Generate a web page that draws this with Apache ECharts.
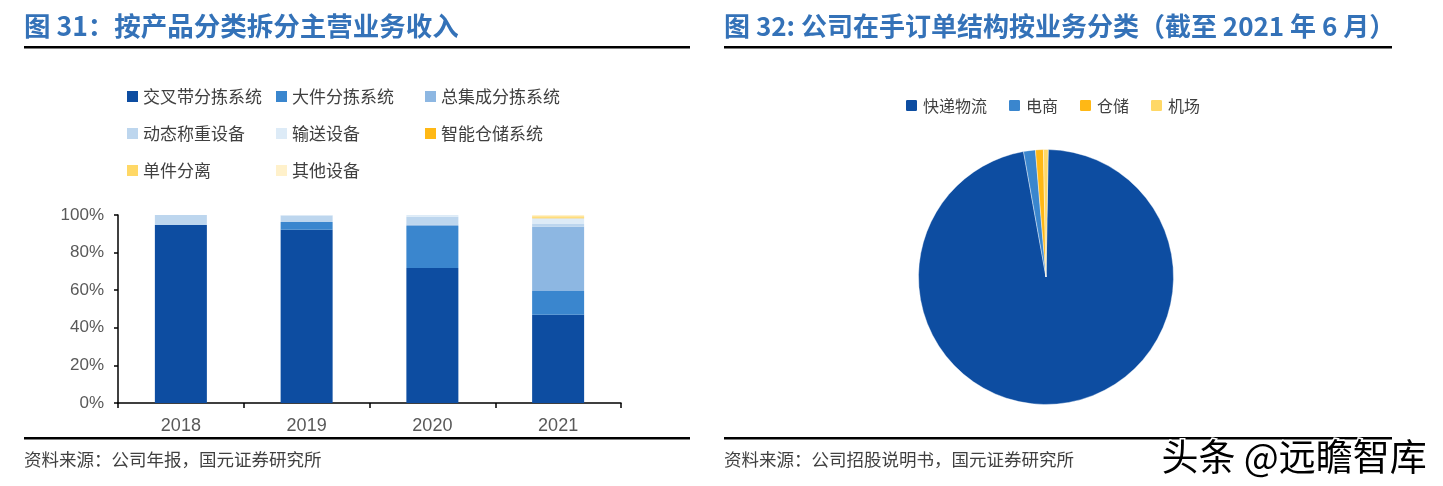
<!DOCTYPE html>
<html><head><meta charset="utf-8">
<script src="https://cdn.jsdelivr.net/npm/echarts@6/dist/echarts.min.js"></script>
<style>html,body{margin:0;padding:0;background:#fff}#c{width:1443px;height:486px}</style>
</head><body><div id="c"></div>
<script>
const years = ['2018', '2019', '2020', '2021'];
const barNames = ['交叉带分拣系统', '大件分拣系统', '总集成分拣系统', '动态称重设备', '输送设备', '智能仓储系统', '单件分离', '其他设备'];
const s交叉带 = [94.7, 92.1, 71.8, 47.0];
const s大件 = [0, 4.2, 22.3, 12.6];
const s总集成 = [0, 0, 0.8, 34.2];
const s动态称重 = [5.3, 3.5, 4.2, 1.4];
const s输送 = [0, 0.2, 0.9, 3.1];
const s智能仓储 = [0, 0, 0, 0.2];
const s单件分离 = [0, 0, 0, 0.9];
const s其他 = [0, 0, 0, 0.6];
const barValues = [s交叉带, s大件, s总集成, s动态称重, s输送, s智能仓储, s单件分离, s其他];
const yTicks = [0, 20, 40, 60, 80, 100];
const pieNames = ['快递物流', '电商', '仓储', '机场'];
const pieValues = [96.9, 1.5, 1.0, 0.6];

const barColors = ['#0D4DA1', '#3A86CE', '#8DB7E2', '#BDD6EE', '#DDEBF7', '#FFB815', '#FFD866', '#FFF1CB'];
const pieColors = ['#0D4DA1', '#3A86CE', '#FFB815', '#FFD866'];
const cjk = '"Noto Sans CJK SC", sans-serif';
const legText = {fontFamily: cjk, fontSize: 17, color: '#404040', lineHeight: 17};
const pieLegText = {fontFamily: cjk, fontSize: 16, color: '#404040', lineHeight: 17};
const roundSq = 'path://M2,0H10A2,2,0,0,1,12,2V10A2,2,0,0,1,10,12H2A2,2,0,0,1,0,10V2A2,2,0,0,1,2,0Z';

const chart = echarts.init(document.getElementById('c'));
const legendCol = (left, names) => ({
  orient: 'vertical', left: left, top: 88, padding: 0, itemGap: 20,
  itemWidth: 11, itemHeight: 11, icon: 'rect', data: names, textStyle: legText, selectedMode: false
});
chart.setOption({
  animation: false,
  color: barColors,
  legend: [
    legendCol(127, [barNames[0], barNames[3], barNames[6]]),
    legendCol(276, [barNames[1], barNames[4], barNames[7]]),
    legendCol(425, [barNames[2], barNames[5]]),
    {orient: 'horizontal', left: 904, top: 97, padding: 0, itemGap: 20, itemWidth: 13, itemHeight: 13,
     icon: roundSq, data: pieNames, textStyle: pieLegText, selectedMode: false}
  ],
  grid: {left: 118, right: 822, top: 215, bottom: 83, containLabel: false},
  xAxis: {type: 'category', data: years,
    axisLine: {lineStyle: {color: '#000', width: 1.5}},
    axisTick: {show: true, length: 5, lineStyle: {color: '#000', width: 1.5}},
    axisLabel: {color: '#595959', fontSize: 18, fontFamily: '"Liberation Sans", Arial, sans-serif', margin: 14}},
  yAxis: {type: 'value', min: 0, max: 100, interval: 20,
    axisLine: {show: true, lineStyle: {color: '#000', width: 1.5}},
    axisTick: {show: true, length: 4, lineStyle: {color: '#000', width: 1.5}},
    splitLine: {show: false},
    axisLabel: {color: '#595959', fontSize: 17, fontFamily: '"Liberation Sans", Arial, sans-serif', margin: 14,
      formatter: v => yTicks.includes(v) ? v + '%' : ''}},
  series: barNames.map((n, i) => ({
    name: n, type: 'bar', stack: 'all', barWidth: 52, data: barValues[i],
    itemStyle: {color: barColors[i]}
  })).concat([{
    type: 'pie', center: [1046, 277], radius: 127.5, startAngle: 89, clockwise: true,
    label: {show: false}, labelLine: {show: false},
    itemStyle: {borderColor: '#fff', borderWidth: 0.4},
    data: pieNames.map((n, i) => ({name: n, value: pieValues[i], itemStyle: {color: pieColors[i]}}))
  }]),
  graphic: [
    {type: 'text', left: 24, top: 13, style: {text: '图 31：按产品分类拆分主营业务收入', font: 'bold 26.5px ' + cjk, fill: '#3472B8'}},
    {type: 'text', left: 724, top: 13, style: {text: '图 32: 公司在手订单结构按业务分类（截至 2021 年 6 月）', font: 'bold 26px ' + cjk, fill: '#3472B8'}},
    {type: 'rect', shape: {x: 24, y: 46, width: 666, height: 2.5}, style: {fill: '#000'}},
    {type: 'rect', shape: {x: 724, y: 46, width: 668, height: 2.5}, style: {fill: '#000'}},
    {type: 'rect', shape: {x: 24, y: 437, width: 666, height: 2.5}, style: {fill: '#000'}},
    {type: 'rect', shape: {x: 724, y: 437, width: 668, height: 2.5}, style: {fill: '#000'}},
    {type: 'text', left: 24, top: 451, style: {text: '资料来源：公司年报，国元证券研究所', font: '17.5px ' + cjk, fill: '#404040'}},
    {type: 'text', left: 724, top: 451, style: {text: '资料来源：公司招股说明书，国元证券研究所', font: '17.5px ' + cjk, fill: '#404040'}},
    {type: 'text', left: 1160, top: 437, style: {text: '头条 @远瞻智库', font: '37px ' + cjk, fill: '#000', stroke: '#fff', lineWidth: 3}}
  ]
});
</script></body></html>
